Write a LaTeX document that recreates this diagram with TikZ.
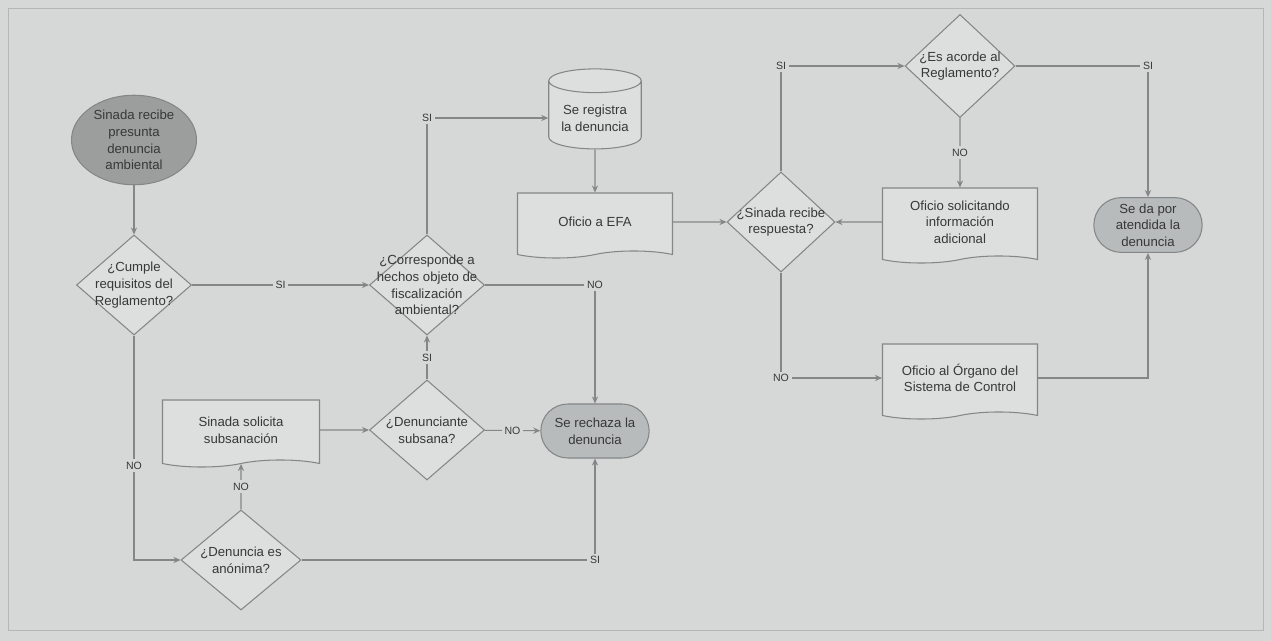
\documentclass[tikz,border=0pt]{standalone}
\usepackage{fontspec}
\setmainfont{Liberation Sans}
\usetikzlibrary{shapes.geometric, shapes.symbols, shapes.misc, arrows.meta, positioning}
\definecolor{fondo}{RGB}{213,216,215}
\definecolor{linea}{RGB}{132,135,135}
\definecolor{texto}{RGB}{55,57,57}
\definecolor{oscuro}{RGB}{156,158,158}
\definecolor{medio}{RGB}{184,187,187}
\definecolor{claro}{RGB}{220,223,222}

\begin{document}
\begin{tikzpicture}[font=\fontsize{7.5}{9.5}\selectfont, >={Stealth[length=4pt,width=3.5pt]},
    text=texto, draw=linea, line width=0.6pt,
    inicio/.style={draw=linea, ellipse, minimum width=2.5cm, minimum height=1.6cm, fill=oscuro, align=center, inner sep=1pt},
    decision/.style={draw=linea, diamond, minimum width=2.3cm, minimum height=2cm, inner sep=0pt, fill=claro},
    dtexto/.style={align=center, inner sep=0pt, text=texto},
    documento/.style={draw=linea, tape, tape bend top=none, tape bend height=4pt, minimum width=3.1cm, minimum height=1.4cm, fill=claro, align=center},
    registro/.style={draw=linea, cylinder, shape border rotate=90, aspect=0.3, minimum width=1.85cm, minimum height=1.6cm, fill=claro, align=center},
    fin/.style={draw=linea, rounded rectangle, minimum width=2.4cm, minimum height=1.08cm, fill=medio, align=center},
    etq/.style={fill=fondo, inner sep=1.5pt, font=\fontsize{6}{7}\selectfont}]
    % fondo y marco
    \fill[fondo] (0,0) rectangle (25.42,-12.82);
    \draw[linea!60, line width=0.4pt] (0.16,-0.16) rectangle (25.26,-12.6);
    \useasboundingbox (0,0) rectangle (25.42,-12.82);

    \node[inicio] (ini) at (2.68,-2.80) {Sinada recibe\\presunta\\denuncia\\ambiental};
    \node[decision, label={[dtexto]center:{¿Cumple\\requisitos del\\Reglamento?}}] (cumple) at (2.68,-5.70) {};
    \node[decision, label={[dtexto]center:{¿Corresponde a\\hechos objeto de\\fiscalización\\ambiental?}}] (corresp) at (8.54,-5.70) {};
    \node[registro] (reg) at (11.9,-2.36) {Se registra\\la denuncia};
    \node[documento, minimum height=1.3cm] (efa) at (11.9,-4.44) {Oficio a EFA};
    \node[decision, minimum width=2.16cm, label={[dtexto]center:{¿Sinada recibe\\respuesta?}}] (resp) at (15.62,-4.44) {};
    \node[decision, minimum width=2.2cm, minimum height=2.06cm, label={[dtexto]center:{¿Es acorde al\\Reglamento?}}] (acorde) at (19.2,-1.32) {};
    \node[documento, minimum height=1.5cm] (info) at (19.2,-4.44) {Oficio solicitando\\información\\adicional};
    \node[fin] (atendida) at (22.96,-4.5) {Se da por\\atendida la\\denuncia};
    \node[documento, minimum height=1.5cm] (organo) at (19.2,-7.56) {Oficio al Órgano del\\Sistema de Control};
    \node[decision, label={[dtexto]center:{¿Denunciante\\subsana?}}] (subsana) at (8.54,-8.6) {};
    \node[fin] (rechaza) at (11.9,-8.62) {Se rechaza la\\denuncia};
    \node[documento, minimum width=3.14cm, minimum height=1.34cm] (solicita) at (4.82,-8.6) {Sinada solicita\\subsanación};
    \node[decision, minimum width=2.4cm, label={[dtexto]center:{¿Denuncia es\\anónima?}}] (anonima) at (4.82,-11.2) {};

    \draw[->] (ini) -- (cumple);
    \draw[->] (cumple) -- node[etq]{SI} (corresp);
    \draw[->] (cumple) |- node[etq, pos=0.29]{NO} (anonima);
    \draw[->] (corresp) |- node[etq]{SI} (reg);
    \draw[->] (corresp) -| node[etq]{NO} (rechaza);
    \draw[->] (reg) -- (efa);
    \draw[->] (efa) -- (resp);
    \draw[->] (resp) |- node[etq]{SI} (acorde);
    \draw[->] (acorde) -| node[etq]{SI} (atendida);
    \draw[->] (acorde) -- node[etq]{NO} (info);
    \draw[->] (info) -- (resp);
    \draw[->] (resp) |- node[etq]{NO} (organo);
    \draw[->] (organo) -| (atendida);
    \draw[->] (subsana) -- node[etq]{SI} (corresp);
    \draw[->] (subsana) -- node[etq]{NO} (rechaza);
    \draw[->] (solicita) -- (subsana);
    \draw[->] (anonima) -- node[etq]{NO} (solicita);
    \draw[->] (anonima) -| node[etq]{SI} (rechaza);
\end{tikzpicture}
\end{document}
